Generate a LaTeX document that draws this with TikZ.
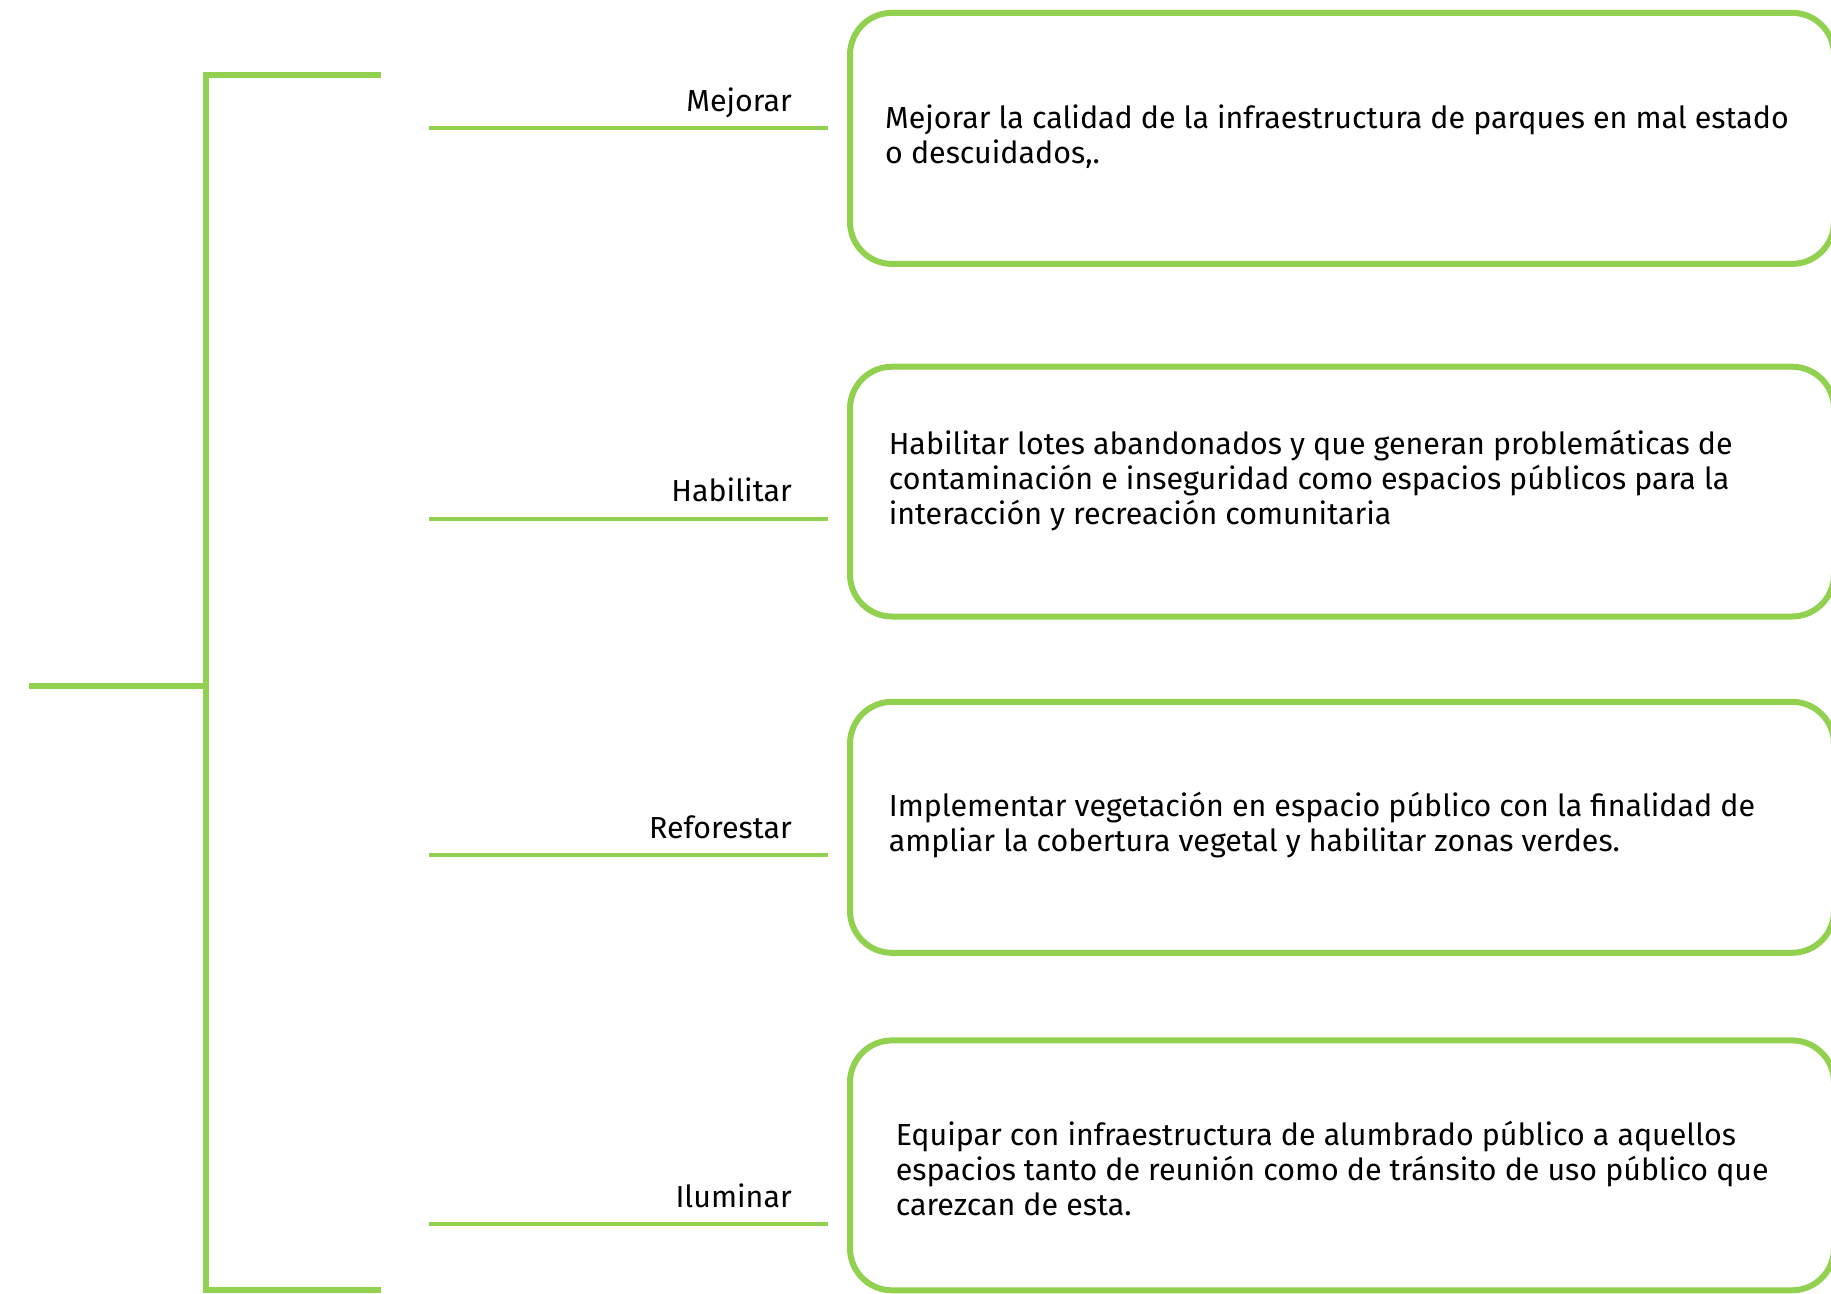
\documentclass[tikz,border=0pt]{standalone}
\usepackage{fontspec}
\setmainfont{Fira Sans}
\definecolor{leaf}{HTML}{92D050}
\begin{document}
\begin{tikzpicture}[x=1pt,y=-1pt,
  bracket/.style={draw=leaf,line width=6pt},
  branch/.style={draw=leaf,line width=4pt},
  card/.style={draw=leaf,line width=6pt,rounded corners=42pt},
  tag/.style={anchor=base east,inner sep=0pt,font=\fontsize{30.4}{35}\selectfont},
  body/.style={anchor=west,inner sep=0pt,align=left,font=\fontsize{30.4}{35}\selectfont}]
\useasboundingbox (0,0) rectangle (1831,1293);

% main stem and bracket
\coordinate (s0) at (29,685.5);
\coordinate (s1) at (205.5,685.5);
\coordinate (btop) at (378,74.7);
\coordinate (bbot) at (378,1290.3);
\draw[bracket] (s0) -- (s1);
\draw[bracket,line cap=rect] (btop) -- (205.5,74.7) -- (205.5,1290.3) -- (bbot);

% branches
\foreach \n/\y in {a/128.4,b/518.7,c/854.8,d/1223.8}{
  \coordinate (\n0) at (428.5,\y);
  \coordinate (\n1) at (828,\y);
  \draw[branch] (\n0) -- (\n1);
}

% branch labels
\node[tag] (la) at (792,111) {Mejorar};
\node[tag] (lb) at (792,501.7) {Habilitar};
\node[tag] (lc) at (792,838) {Reforestar};
\node[tag] (ld) at (792,1207) {Iluminar};

% cards
\draw[card] (850,12.8) rectangle (1834,263.9);
\draw[card] (850,366.7) rectangle (1834,616.5);
\draw[card] (850,701.8) rectangle (1834,952.8);
\draw[card] (850,1040.4) rectangle (1834,1290.3);

% card texts
\node[body] (ta) at (885,136.5) {Mejorar la calidad de la infraestructura de parques en mal estado\\o descuidados,.};
\node[body] (tb) at (888.6,481) {Habilitar lotes abandonados y que generan problemáticas de\\contaminación e inseguridad como espacios públicos para la\\interacción y recreación comunitaria};
\node[body] (tc) at (888.6,825.5) {Implementar vegetación en espacio público con la finalidad de\\ampliar la cobertura vegetal y habilitar zonas verdes.};
\node[body] (td) at (895.6,1168.7) {Equipar con infraestructura de alumbrado público a aquellos\\espacios tanto de reunión como de tránsito de uso público que\\carezcan de esta.};
\end{tikzpicture}
\end{document}
